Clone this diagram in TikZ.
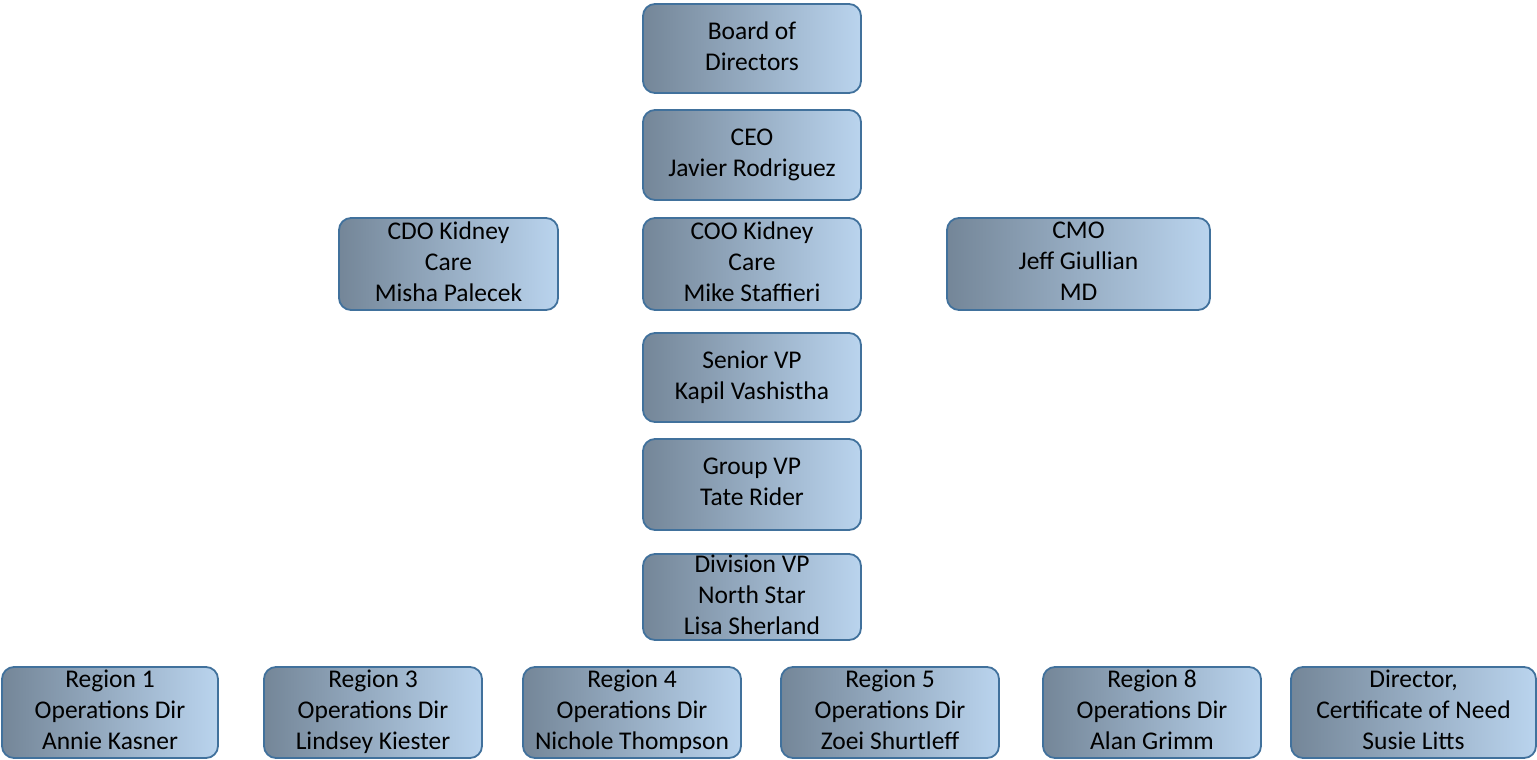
\documentclass[tikz,border=0pt]{standalone}
\usepackage{fontspec}
\setmainfont{Carlito}
\definecolor{boxleft}{RGB}{116,134,152}
\definecolor{boxright}{RGB}{186,212,238}
\definecolor{boxborder}{RGB}{65,113,156}
\newcommand{\orgstrut}{\rule[-5pt]{0pt}{30.5pt}}
\begin{document}
\begin{tikzpicture}[x=1pt,y=-1pt,
  orgbox/.style={draw=boxborder, line width=1.8pt, rounded corners=12pt,
    left color=boxleft, right color=boxright, align=center, inner sep=0pt,
    font=\fontsize{25.5}{31}\selectfont, text=black,
    execute at begin node=\orgstrut, execute at end node=\orgstrut},
  midbox/.style={orgbox, minimum width=218pt}]
\useasboundingbox (0,0) rectangle (1537,760);
\node[midbox, minimum height=89pt] (board) at (752,48.5) {Board of\\Directors};
\node[midbox, minimum height=90pt] (ceo) at (752,155) {CEO\\Javier Rodriguez};
\node[orgbox, minimum width=219pt, minimum height=92pt] (cdo) at (448.5,264) {CDO Kidney\\Care\\Misha Palecek};
\node[midbox, minimum height=92pt] (coo) at (752,264) {COO Kidney\\Care\\Mike Staffieri};
\node[orgbox, minimum width=263pt, minimum height=92pt] (cmo) at (1078.5,264) {CMO\\Jeff Giullian\\MD};
\node[midbox, minimum height=89pt] (svp) at (752,377.5) {Senior VP\\Kapil Vashistha};
\node[midbox, minimum height=91pt] (gvp) at (752,484.5) {Group VP\\Tate Rider};
\node[midbox, minimum height=86pt] (dvp) at (752,597) {Division VP\\North Star\\Lisa Sherland};
\node[orgbox, minimum width=216pt, minimum height=91pt] (r1) at (110,712.5) {Region 1\\Operations Dir\\Annie Kasner};
\node[orgbox, minimum width=218pt, minimum height=91pt] (r3) at (373,712.5) {Region 3\\Operations Dir\\Lindsey Kiester};
\node[orgbox, minimum width=218pt, minimum height=91pt] (r4) at (632,712.5) {Region 4\\Operations Dir\\Nichole Thompson};
\node[orgbox, minimum width=218pt, minimum height=91pt] (r5) at (890,712.5) {Region 5\\Operations Dir\\Zoei Shurtleff};
\node[orgbox, minimum width=218pt, minimum height=91pt] (r8) at (1152,712.5) {Region 8\\Operations Dir\\Alan Grimm};
\node[orgbox, minimum width=245pt, minimum height=91pt] (dir) at (1413.5,712.5) {Director,\\Certificate of Need\\Susie Litts};
\end{tikzpicture}
\end{document}
